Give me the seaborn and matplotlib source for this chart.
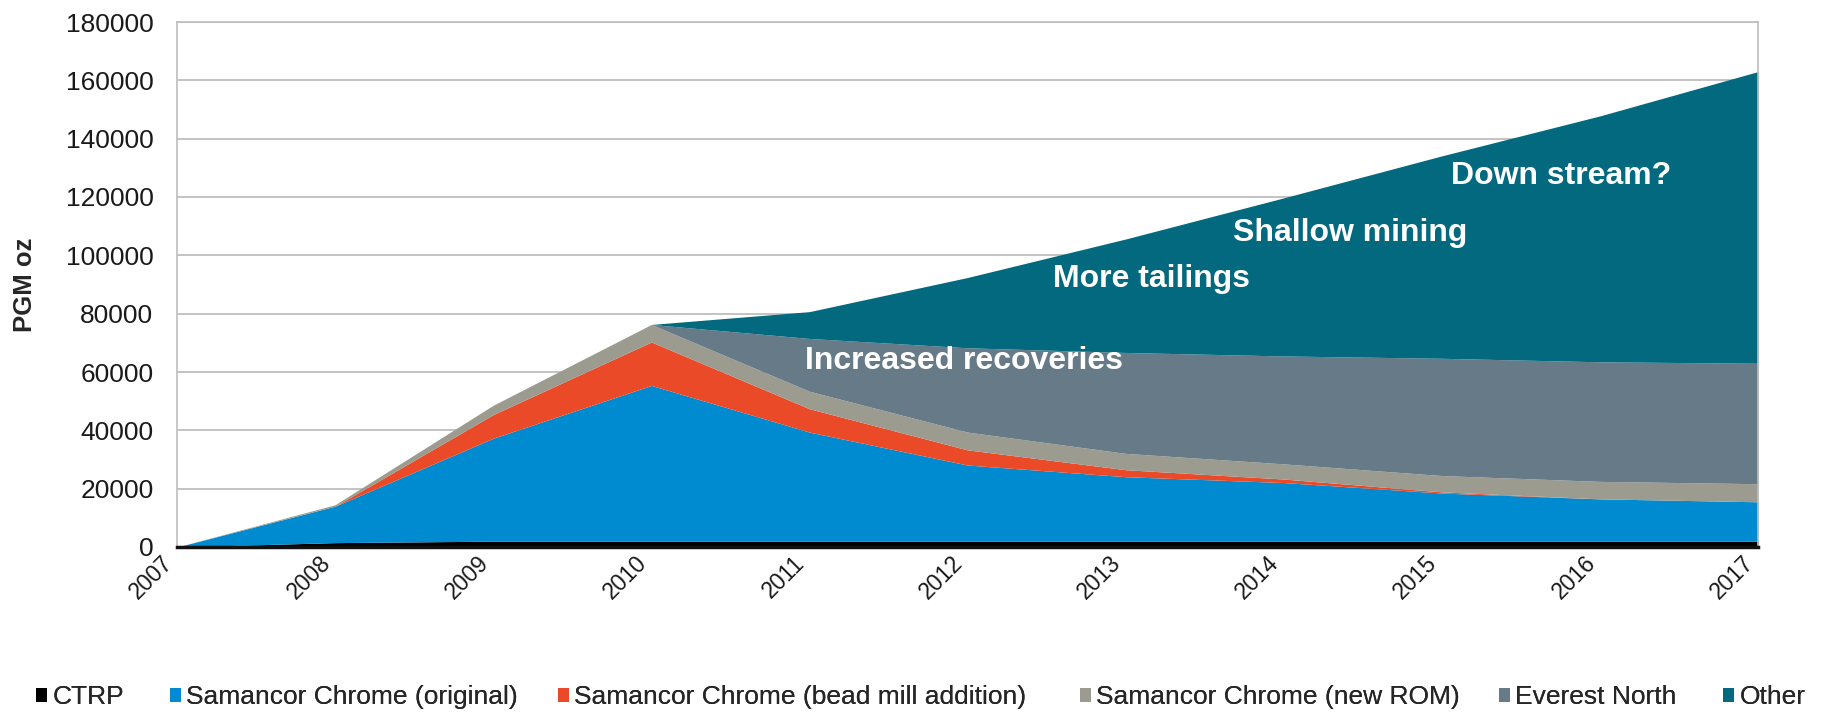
import matplotlib
matplotlib.use("Agg")
import matplotlib.pyplot as plt
import seaborn as sns
import numpy as np
from matplotlib.patches import Patch

years = [2007, 2008, 2009, 2010, 2011, 2012, 2013, 2014, 2015, 2016, 2017]
ctrp = [0, 1500, 2000, 2000, 2000, 2000, 2000, 2000, 2000, 2000, 2000]
sam_original = [0, 12500, 35300, 53400, 37400, 26100, 22100, 20100, 16500, 14500, 13500]
sam_beadmill = [0, 0, 8100, 14900, 8000, 5200, 2400, 1200, 400, 0, 0]
sam_newrom = [0, 500, 3200, 6000, 6000, 6100, 5600, 5200, 5600, 6000, 6200]
everest_north = [0, 0, 0, 0, 18100, 28900, 34600, 37000, 40200, 41000, 41300]
other = [0, 0, 0, 0, 9200, 24100, 38900, 54200, 69400, 84300, 100000]

series_names = ["CTRP", "Samancor Chrome (original)", "Samancor Chrome (bead mill addition)",
                "Samancor Chrome (new ROM)", "Everest North", "Other"]
colors = ["#000000", "#008ACF", "#EA4A28", "#9B9B90", "#677A87", "#02697F"]

annotations = ["Increased recoveries", "More tailings", "Shallow mining", "Down stream?"]
annot_x = [2010.97, 2012.54, 2013.68, 2015.06]
annot_y = [63900, 92000, 107600, 127300]

sns.set_style("white")
plt.rcParams['font.family'] = ['Liberation Sans', 'DejaVu Sans']

W, H = 1829, 713
fig = plt.figure(figsize=(W / 100, H / 100), dpi=100)
ax = fig.add_axes([177 / W, 1 - 547 / H, (1758 - 177) / W, (547 - 22) / H])

ax.stackplot(years, ctrp, sam_original, sam_beadmill, sam_newrom, everest_north, other,
             colors=colors, linewidth=0, zorder=2)

ax.set_xlim(2007, 2017)
ax.set_ylim(0, 180000)
ax.set_yticks(np.arange(0, 180001, 20000))
ax.set_yticklabels([str(v) for v in range(0, 180001, 20000)], fontsize=19, color="#1a1a1a")
ax.set_xticks(years)
ax.set_xticklabels([str(y) for y in years], rotation=45, ha="right",
                   fontsize=16.5, color="#1a1a1a")
ax.tick_params(axis="x", length=0, pad=3)
ax.tick_params(axis="y", length=0, pad=17)
ax.yaxis.grid(True, color="#BEBEBE", linewidth=1.3, zorder=0)
ax.set_axisbelow(True)
for s in ["left", "right", "top"]:
    ax.spines[s].set_color("#BEBEBE")
    ax.spines[s].set_linewidth(1.2)
ax.spines["bottom"].set_color("#111111")
ax.spines["bottom"].set_linewidth(2.5)

ax.set_ylabel("PGM oz", fontsize=18.5, fontweight="bold")
ax.yaxis.set_label_coords(-0.0886, 0.5)

for t, x, y in zip(annotations, annot_x, annot_y):
    ax.text(x, y, t, color="white", fontsize=23, fontweight="bold", ha="left", va="center", zorder=5)

legend_x = [36, 170, 558, 1080, 1499, 1723]
for name, c, lx in zip(series_names, colors, legend_x):
    lg = fig.legend([Patch(facecolor=c, edgecolor="none")], [name], loc="center left",
                    bbox_to_anchor=(lx / W, 0.022), frameon=False, fontsize=19,
                    handlelength=0.42, handleheight=0.42, handletextpad=0.2,
                    borderpad=0, borderaxespad=0)
    fig.add_artist(lg)

fig.savefig("out.png", dpi=100)
